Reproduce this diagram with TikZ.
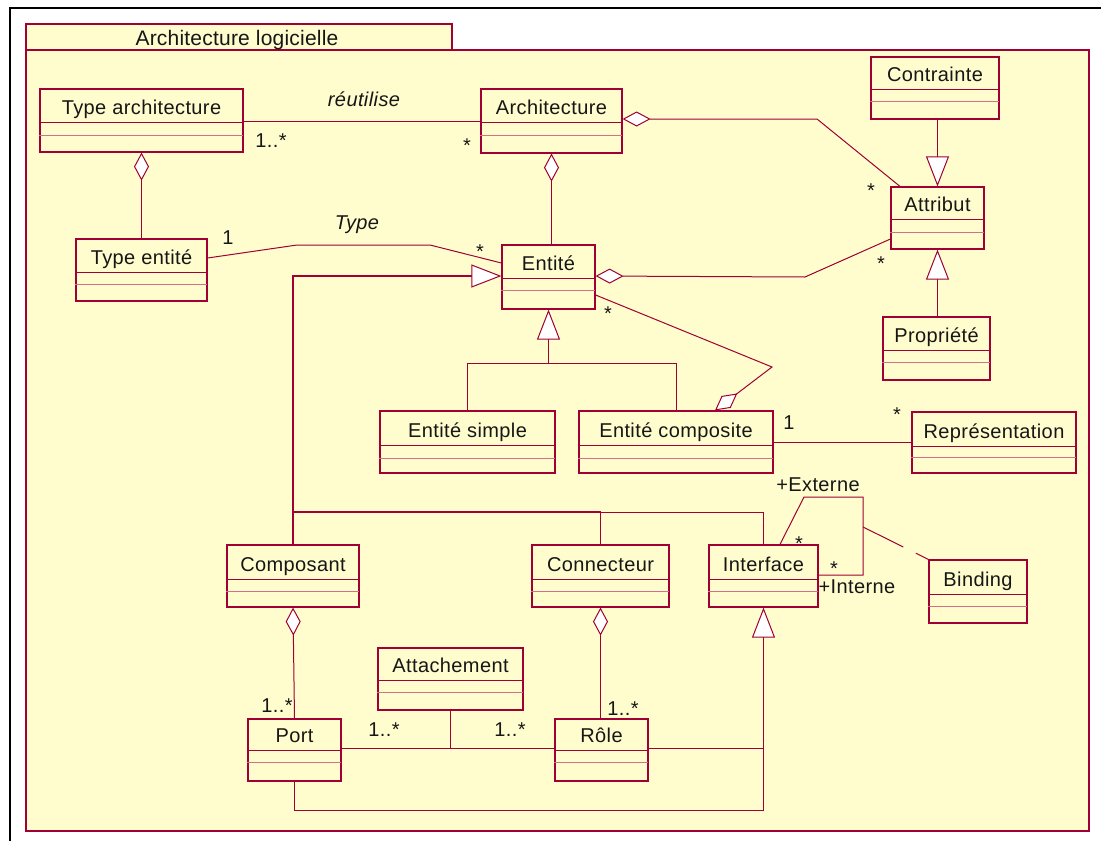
\documentclass[tikz,border=0pt]{standalone}
\usepackage{fontspec}
\setmainfont{Liberation Sans}[LetterSpace=2]
\newfontfamily\titlefont{Liberation Sans}[LetterSpace=1]
\usetikzlibrary{arrows.meta,fit,calc}
\definecolor{umlfill}{RGB}{255,253,206}
\definecolor{umlline}{RGB}{160,0,52}
\definecolor{umlsoft}{RGB}{208,112,138}
\definecolor{umltext}{RGB}{22,22,22}

\tikzset{
  classbox/.style={draw=umlline, fill=umlfill, line width=1.2pt, inner sep=0pt},
  classname/.style={text=umltext, inner sep=0pt, anchor=base, font=\fontsize{20}{24}\selectfont},
  mult/.style={text=umltext, inner sep=0pt, anchor=base, font=\fontsize{20}{24}\selectfont},
  rolename/.style={mult, font=\fontsize{20}{24}\selectfont\itshape},
  assoc/.style={draw=umlline, line width=1pt},
  aggr/.style={assoc, {Diamond[length=28pt, width=15pt, fill=white]}-},
  gen/.style={assoc, -{Triangle[length=30pt, width=23pt, fill=white, line width=1pt]}},
  pkgbox/.style={draw=umlline, fill=umlfill, line width=1.2pt, inner sep=0pt},
}

% #1 name, #2..#5 left/top/right/bottom, #6 #7 compartment rules, #8 class name
\newcommand\umlclass[8]{%
  \node[classbox, fit={(#2,#3)(#4,#5)}] (#1) {};
  \draw[umlline, line width=1pt] (#1.west |- 0,#6) -- (#1.east |- 0,#6);
  \draw[umlsoft, line width=1pt] (#1.west |- 0,#7) -- (#1.east |- 0,#7);
  \draw[umlline, line width=1.6pt] (#1.south west) -- (#1.south east) -- (#1.north east);
  \node[classname] (#1-name) at ({(#2+#4)/2},{#6-8}) {#8};
}

\begin{document}
\begin{tikzpicture}[x=1pt, y=-1pt]
\useasboundingbox (0,0) rectangle (1101,841);
\fill[white] (0,0) rectangle (1101,841);

% outer frame
\draw[black, line width=2.5pt] (10,841) -- (10,8) -- (1101,8);

% package
\node[pkgbox, fit={(26,24)(452,50)}] (pkgtab) {};
\node[pkgbox, fit={(26,50)(1089,831)}] (pkg) {};
\node[text=umltext, inner sep=0pt, anchor=base, font=\fontsize{21}{25}\titlefont] (pkg-title) at (237,45) {Architecture logicielle};

% classes
\umlclass{ta}{40}{89}{243}{152}{122}{135}{Type architecture}
\umlclass{arch}{481}{89}{622}{153}{122}{135}{Architecture}
\umlclass{contr}{871}{57}{999}{119}{89}{101}{Contrainte}
\umlclass{attr}{891}{187}{984}{249}{219}{232}{Attribut}
\umlclass{prop}{883}{317}{990}{380}{350}{362}{Propriété}
\umlclass{te}{76}{239}{207}{301}{272}{284}{Type entité}
\umlclass{entite}{502}{245}{595}{309}{278}{290}{Entité}
\umlclass{esimple}{380}{411}{555}{473}{445}{458}{Entité simple}
\umlclass{ecomp}{579}{411}{773}{473}{445}{458}{Entité composite}
\umlclass{repr}{912}{412}{1076}{473}{446}{457}{Représentation}
\umlclass{binding}{929}{560}{1027}{623}{594}{606}{Binding}
\umlclass{iface}{709}{545}{818}{607}{579}{591}{Interface}
\umlclass{comp}{227}{545}{359}{607}{579}{591}{Composant}
\umlclass{conn}{532}{545}{669}{607}{579}{591}{Connecteur}
\umlclass{attach}{378}{648}{523}{710}{680}{692}{Attachement}
\umlclass{port}{248}{719}{341}{781}{750}{762}{Port}
\umlclass{role}{555}{719}{648}{781}{750}{762}{Rôle}

% réutilise
\draw[assoc] (ta.east |- 0,121) -- (arch.west |- 0,121);
\node[rolename] (lbl-reut) at (364,106) {réutilise};
\node[mult] (m-ta) at (271,147) {1..*};
\node[mult] (m-arch) at (467,152) {*};

% Architecture -- Attribut
\draw[aggr] (arch.east |- 0,119) -- (817,119) -- (attr.north -| 900,0);
\node[mult] (m-attr1) at (871,197) {*};

% Architecture -- Entité
\draw[aggr] (arch.south) -- (arch.south |- entite.north);

% Type architecture -- Type entité
\draw[aggr] (ta.south) -- (ta.south |- te.north);

% Type
\draw[assoc] (te.east |- 0,258) -- (297,245) -- (430,245) -- (entite.west |- 0,263);
\node[rolename] (lbl-type) at (357,229) {Type};
\node[mult] (m-te) at (228,244) {1};
\node[mult] (m-ent1) at (480,258) {*};

% Composant, Connecteur, Interface specialise Entité
\draw[gen, line width=1.6pt] (comp.north) -- (comp.north |- 0,276) -- (entite.west |- 0,276);
\draw[assoc, line width=1.6pt] (comp.north |- 0,512) -- (conn.north |- 0,512);
\draw[assoc] (conn.north |- 0,512) -| (iface.north);
\draw[assoc] (conn.north) -- (conn.north |- 0,512);

% Entité simple / composite specialise Entité
\draw[assoc] (esimple.north) |- (ecomp.north |- 0,363) -- (ecomp.north);
\draw[gen] (entite.south |- 0,363) -- (entite.south);

% Entité -- Attribut
\draw[aggr] (entite.east |- 0,276) -- (805,277) -- (attr.west |- 0,239);
\node[mult] (m-attr2) at (881,270) {*};

% Entité composite aggregates Entité
\draw[aggr] (ecomp.north -| 715,0) -- (772,367) -- (entite.east |- 0,295);
\node[mult] (m-ent2) at (608,320) {*};

% Entité composite -- Représentation
\draw[assoc] (ecomp.east |- 0,442) -- (repr.west |- 0,442);
\node[mult] (m-ec) at (789,429) {1};
\node[mult] (m-repr) at (897,421) {*};

% Contrainte, Propriété specialise Attribut
\draw[gen] (contr.south -| attr.north) -- (attr.north);
\draw[gen] (prop.north -| attr.south) -- (attr.south);

% Interface self association with Binding
\coordinate (bind-pt) at (863,527);
\draw[assoc] (iface.north -| 780,0) -- (804,497) -- (863,497) -- (863,575) -- (iface.east |- 0,575);
\draw[assoc, dash pattern=on 45pt off 14pt] (bind-pt) -- (binding.north west);
\node[mult] (lbl-ext) at (818,491) {+Externe};
\node[mult] (lbl-int) at (857,593) {+Interne};
\node[mult] (m-if1) at (799,550) {*};
\node[mult] (m-if2) at (834,575) {*};

% Composant -- Port, Connecteur -- Rôle
\draw[aggr] (comp.south) -- (port.north);
\node[mult] (m-port) at (277,712) {1..*};
\draw[aggr] (conn.south) -- (conn.south |- role.north);
\node[mult] (m-role) at (623,715) {1..*};

% Attachement
\draw[assoc] (port.east |- 0,748) -- (role.west |- 0,748);
\draw[assoc] (attach.south) -- (attach.south |- 0,748);
\node[mult] (m-att1) at (384,736) {1..*};
\node[mult] (m-att2) at (510,736) {1..*};

% Port, Rôle specialise Interface
\draw[gen] (role.east |- 0,748) -| (iface.south);
\draw[assoc] (port.south) |- (iface.south |- 0,810) -- (iface.south |- 0,748);
\end{tikzpicture}
\end{document}
